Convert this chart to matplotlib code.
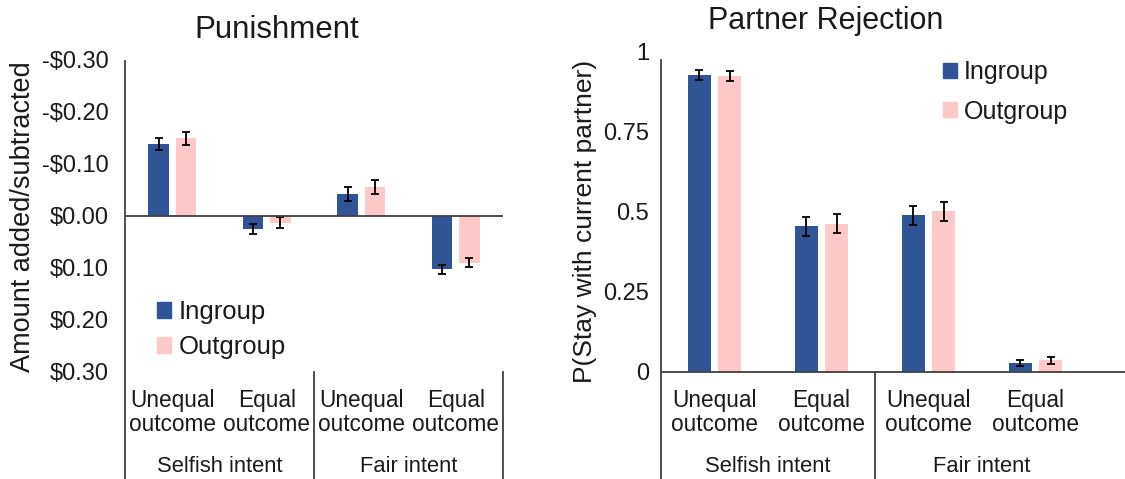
import matplotlib
matplotlib.use("Agg")
import matplotlib.pyplot as plt
import numpy as np
from matplotlib.lines import Line2D
from matplotlib.patches import Patch
from matplotlib.transforms import blended_transform_factory

plt.rcParams['font.family'] = ['Liberation Sans', 'DejaVu Sans']

# data
conditions = ["Unequal\noutcome", "Equal\noutcome", "Unequal\noutcome", "Equal\noutcome"]
intents = ["Selfish intent", "Fair intent"]
groups = ["Ingroup", "Outgroup"]

# punishment (negative = subtracted, shown upward)
pun_in = [-0.138, 0.025, -0.042, 0.103]
pun_out = [-0.149, 0.013, -0.056, 0.090]
pun_in_err = [0.012, 0.010, 0.013, 0.009]
pun_out_err = [0.012, 0.011, 0.013, 0.008]
pun_ticks = [-0.3, -0.2, -0.1, 0.0, 0.1, 0.2, 0.3]
pun_ticklabels = [r"-\$0.30", r"-\$0.20", r"-\$0.10", r"\$0.00", r"\$0.10", r"\$0.20", r"\$0.30"]

# partner rejection
rej_in = [0.927, 0.454, 0.489, 0.027]
rej_out = [0.923, 0.462, 0.501, 0.036]
rej_in_err = [0.016, 0.029, 0.030, 0.009]
rej_out_err = [0.016, 0.030, 0.030, 0.011]
rej_ticks = [0, 0.25, 0.5, 0.75, 1]
rej_ticklabels = ["0", "0.25", "0.5", "0.75", "1"]

c_in = "#2F5597"
c_out = "#FFC9C9"
txt = "#1a1a1a"
axc = "#404040"

W, H = 1125, 479
fig = plt.figure(figsize=(W / 100, H / 100), dpi=100)

def fx(px):
    return px / W

def fy(py):
    return 1 - py / H

ax1 = fig.add_axes([fx(125), fy(371.7), fx(503) - fx(125), fy(60) - fy(371.7)])
ax2 = fig.add_axes([fx(661), fy(371.7), fx(1089) - fx(661), fy(51.7) - fy(371.7)])

x = np.arange(len(conditions))
ekw = dict(ecolor="black", elinewidth=1.3, capsize=3, capthick=1.3)


def draw(ax, vin, vout, ein, eout, w, off):
    ax.bar(x - off, vin, w, color=c_in, yerr=ein, error_kw=ekw, zorder=2)
    ax.bar(x + off, vout, w, color=c_out, yerr=eout, error_kw=ekw, zorder=2)
    ax.set_xlim(-0.5, len(conditions) - 0.5)
    for s in ax.spines.values():
        s.set_visible(False)
    ax.set_xticks([])
    ax.tick_params(axis="y", length=0, labelsize=17, colors=txt)


draw(ax1, pun_in, pun_out, pun_in_err, pun_out_err, 0.22, 0.145)
ax1.set_ylim(0.3, -0.3)
ax1.set_yticks(pun_ticks)
ax1.set_yticklabels(pun_ticklabels)
ax1.tick_params(axis="y", pad=12)
ax1.axhline(0, color=axc, lw=1.3, zorder=3)

draw(ax2, rej_in, rej_out, rej_in_err, rej_out_err, 0.215, 0.143)
ax2.set_ylim(0, 1)
ax2.set_yticks(rej_ticks)
ax2.set_yticklabels(rej_ticklabels)
ax2.tick_params(axis="y", pad=8.5)
ax2.add_line(Line2D([0, 1.1], [0, 0], transform=ax2.transAxes, color=axc, lw=1.3, clip_on=False, zorder=3))

# vertical axis lines and category separators
for ax, top, seps in [(ax1, 61, [-0.5, 1.5, 3.5]), (ax2, 60, [-0.5, 1.5])]:
    tr = blended_transform_factory(ax.transData, fig.transFigure)
    ax.add_line(Line2D([-0.5, -0.5], [0, fy(top)], transform=tr, color=axc, lw=1.3, clip_on=False))
    for s in seps[1:]:
        ax.add_line(Line2D([s, s], [0, fy(372)], transform=tr, color=axc, lw=1.3, clip_on=False))
    for i, c in enumerate(conditions):
        ax.text(i, fy(412.5), c, transform=tr, ha="center", va="center", fontsize=16.3,
                color=txt, linespacing=1.1)
    for j, g in enumerate(intents):
        ax.text(2 * j + 0.5, fy(467), g, transform=tr, ha="center", va="center", fontsize=15.8, color=txt)

# titles and axis labels
fig.text(fx(277), fy(38), "Punishment", ha="center", va="baseline", fontsize=22.5, color=txt)
fig.text(fx(826), fy(29.5), "Partner Rejection", ha="center", va="baseline", fontsize=22, color=txt)
fig.text(fx(23), fy(217), "Amount added/subtracted", rotation=90, ha="center", va="center",
         fontsize=19.5, color=txt)
fig.text(fx(585), fy(221.5), "P(Stay with current partner)", rotation=90, ha="center", va="center",
         fontsize=19, color=txt)

handles = [Patch(color=c_in), Patch(color=c_out)]
ax1.legend(handles, groups, loc="center left", bbox_to_anchor=(fx(157), fy(329.5)),
           bbox_transform=fig.transFigure, frameon=False, fontsize=18.5, handlelength=0.55,
           handleheight=0.55, handletextpad=0.3, labelspacing=0.42, borderpad=0, borderaxespad=0,
           labelcolor=txt)
ax2.legend(handles, groups, loc="center left", bbox_to_anchor=(fx(943), fy(92)),
           bbox_transform=fig.transFigure, frameon=False, fontsize=18, handlelength=0.55,
           handleheight=0.55, handletextpad=0.3, labelspacing=0.62, borderpad=0, borderaxespad=0,
           labelcolor=txt)

fig.savefig("out.png", dpi=100)
